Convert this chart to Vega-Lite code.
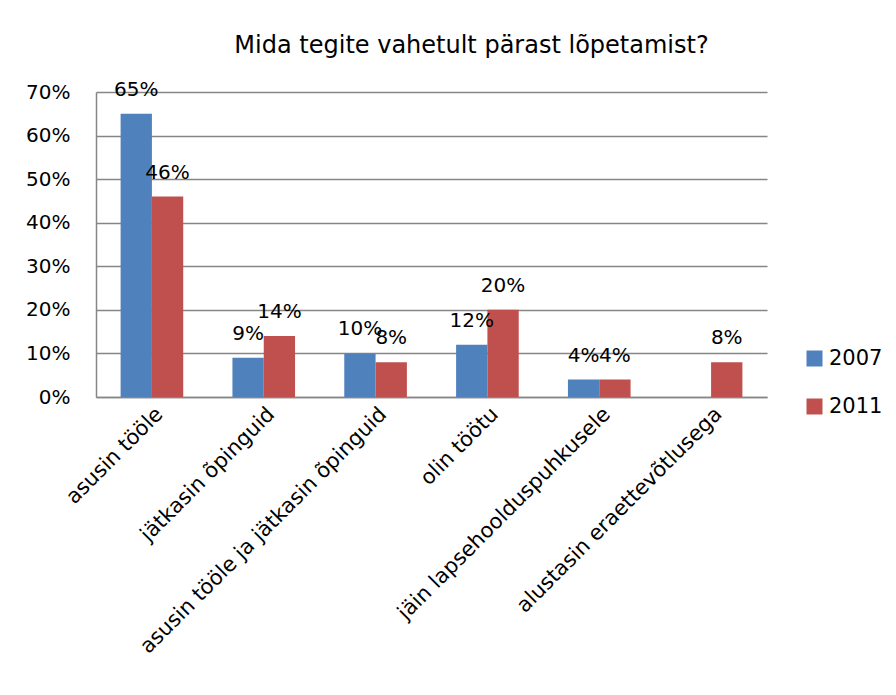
{
  "$schema": "https://vega.github.io/schema/vega-lite/v6.json",
  "width": 671,
  "height": 305,
  "autosize": {"type": "none"},
  "padding": {"left": 96, "top": 92, "right": 129, "bottom": 298},
  "background": "white",
  "config": {"view": {"stroke": null}, "font": "DejaVu Sans"},
  "title": {"text": "Mida tegite vahetult pärast lõpetamist?", "fontSize": 24, "font": "DejaVu Sans", "fontWeight": "normal", "color": "black", "anchor": "middle", "frame": "group", "dx": 40, "offset": 22},
  "data": {"values": [
    {"category": "asusin tööle", "year": "2007", "value": 0.65},
    {"category": "asusin tööle", "year": "2011", "value": 0.46},
    {"category": "jätkasin õpinguid", "year": "2007", "value": 0.09},
    {"category": "jätkasin õpinguid", "year": "2011", "value": 0.14},
    {"category": "asusin tööle ja jätkasin õpinguid", "year": "2007", "value": 0.10},
    {"category": "asusin tööle ja jätkasin õpinguid", "year": "2011", "value": 0.08},
    {"category": "olin töötu", "year": "2007", "value": 0.12},
    {"category": "olin töötu", "year": "2011", "value": 0.20},
    {"category": "jäin lapsehoolduspuhkusele", "year": "2007", "value": 0.04},
    {"category": "jäin lapsehoolduspuhkusele", "year": "2011", "value": 0.04},
    {"category": "alustasin eraettevõtlusega", "year": "2011", "value": 0.08}
  ]},
  "encoding": {
    "x": {"field": "category", "type": "nominal", "sort": null,
      "scale": {"paddingInner": 0.44, "paddingOuter": 0.22},
      "axis": {"title": null, "labelAngle": -45, "labelFontSize": 21, "labelColor": "black", "ticks": false, "domainColor": "#868686", "domainWidth": 1.5, "labelPadding": 6, "labelLimit": 500}},
    "xOffset": {"field": "year", "type": "nominal"},
    "y": {"field": "value", "type": "quantitative",
      "scale": {"domain": [0, 0.7], "nice": false},
      "axis": {"title": null, "format": ".0%", "values": [0, 0.1, 0.2, 0.3, 0.4, 0.5, 0.6, 0.7], "labelFontSize": 20, "labelColor": "black", "ticks": false, "labelPadding": 26, "gridColor": "#868686", "gridWidth": 1.5, "domainColor": "#868686", "domainWidth": 1.5}}
  },
  "layer": [
    {"mark": {"type": "bar"},
     "encoding": {"color": {"field": "year", "type": "nominal",
       "scale": {"domain": ["2007", "2011"], "range": ["#4F81BD", "#C0504D"]},
       "legend": {"title": null, "orient": "none", "legendX": 708, "legendY": 256, "symbolType": "square", "symbolSize": 256, "symbolStrokeWidth": 0, "labelFontSize": 21, "labelColor": "black", "rowPadding": 26, "labelOffset": 4}}}},
    {"mark": {"type": "text", "baseline": "bottom", "dy": -14, "fontSize": 20, "color": "black"},
     "encoding": {"text": {"field": "value", "type": "quantitative", "format": ".0%"}}}
  ]
}
